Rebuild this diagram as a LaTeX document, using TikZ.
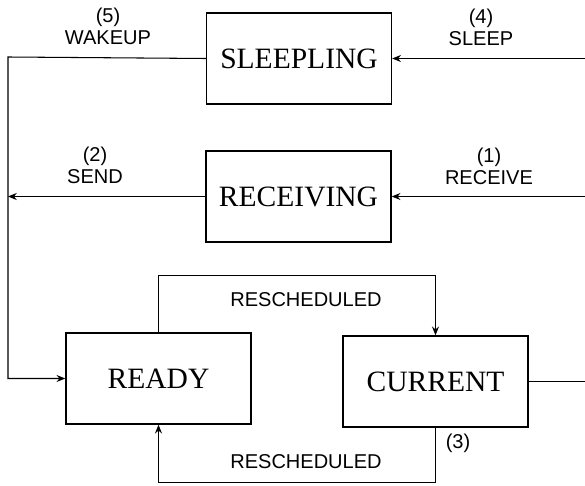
\documentclass[tikz,border=0pt]{standalone}
\usepackage{fontspec}
\setmainfont{Liberation Serif}
\setsansfont{Liberation Sans}
\usetikzlibrary{arrows.meta}

\begin{document}
\begin{tikzpicture}[x=0.02cm,y=-0.02cm,
		state/.style={draw,line width=0.8pt,minimum width=3.7cm,minimum height=1.82cm,font=\fontsize{16.8}{18}\selectfont},
		lbl/.style={font=\sffamily\fontsize{11.4}{12.5}\selectfont,align=center,inner sep=0pt},
		every path/.style={line width=0.6pt},
		>={Stealth[length=5pt,width=4pt]}]
		\useasboundingbox (0,0) rectangle (585,486);
		
		% states
		\node[state] (sleeping) at (299,58.5){SLEEPLING};
		\node[state] (receiving) at (298.5,196.5){RECEIVING};
		\node[state] (ready) at (158.5,378.5){READY};
		\node[state] (current) at (435.5,381.5){CURRENT};
		
		\coordinate (rim) at (585,0);
		\coordinate (bus) at (8,57);
		
		% incoming from the right
		\draw[->] (rim |- sleeping.east) -- (sleeping.east);
		\draw[->] (rim |- receiving.east) -- (receiving.east);
		\draw (current.east) -- (rim |- current.east);
		
		% back to ready
		\draw[->] (sleeping.west) -- (bus) -- (bus |- ready.west) -- (ready.west);
		\draw[->] (receiving.west) -- (bus |- receiving.west);
		
		% rescheduling loops
		\draw[->] (ready.north) -- ++(0,-57) -| (current.north);
		\draw[->] (current.south) -- ++(0,55) -| (ready.south);
		
		% labels
		\node[lbl] (wakeup) at (108,26){(5)\\WAKEUP};
		\node[lbl] (send) at (95,165){(2)\\SEND};
		\node[lbl] (sleep) at (481,27){(4)\\SLEEP};
		\node[lbl] (receive) at (489,166){(1)\\RECEIVE};
		\node[lbl] (resched1) at (306,300){RESCHEDULED};
		\node[lbl] (resched2) at (306,462){RESCHEDULED};
		\node[lbl] (three) at (458,443){(3)};
	\end{tikzpicture}
\end{document}
